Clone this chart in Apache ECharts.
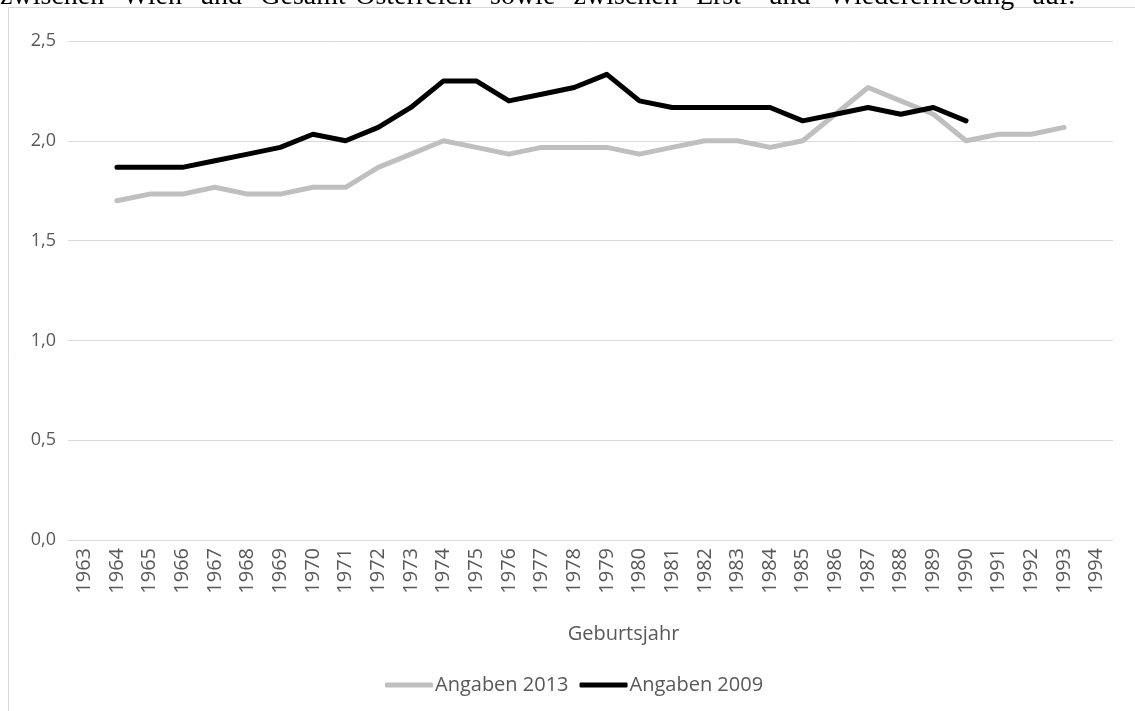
<!DOCTYPE html>
<html><head><meta charset="utf-8">
<script src="https://cdn.jsdelivr.net/npm/echarts@6/dist/echarts.min.js"></script>
<style>html,body{margin:0;padding:0;background:#fff}#c{width:1135px;height:711px}</style>
</head><body><div id="c"></div>
<script>
const years = ['1963','1964','1965','1966','1967','1968','1969','1970','1971','1972','1973','1974','1975','1976','1977','1978','1979','1980','1981','1982','1983','1984','1985','1986','1987','1988','1989','1990','1991','1992','1993','1994'];
const angaben2013 = [null,1.700,1.733,1.733,1.767,1.733,1.733,1.767,1.767,1.867,1.933,2.000,1.967,1.933,1.967,1.967,1.967,1.933,1.967,2.000,2.000,1.967,2.000,2.133,2.267,2.200,2.133,2.000,2.033,2.033,2.067,null];
const angaben2009 = [null,1.867,1.867,1.867,1.900,1.933,1.967,2.033,2.000,2.067,2.167,2.300,2.300,2.200,2.233,2.267,2.333,2.200,2.167,2.167,2.167,2.167,2.100,2.133,2.167,2.133,2.167,2.100,null,null,null,null];
const yTicks = [0,0.5,1.0,1.5,2.0,2.5];
const headerText = 'zwischen Wien und Gesamt-Österreich sowie zwischen Erst- und Wiedererhebung auf.';

const chart = echarts.init(document.getElementById('c'));
const font = 'Open Sans';
chart.setOption({
  animation:false,
  backgroundColor:'#fff',
  graphic:[
    {type:'rect',shape:{x:8.5,y:7.5,width:1200,height:800},style:{fill:'none',stroke:'#d9d9d9',lineWidth:1},z:-1},
    {type:'text',left:0,top:-17,style:{text:headerText.split(' ').join(' \u2009\u2009'),font:'28px "Liberation Serif"',fill:'#000'},z:10}
  ],
  grid:{left:68,right:22,top:41,bottom:171,containLabel:false},
  legend:{top:670,left:380,itemWidth:48,itemHeight:5,itemGap:11,icon:'roundRect',
    textStyle:{fontFamily:font,fontSize:20,color:'#595959',padding:[0,0,0,-3]},
    data:['Angaben 2013','Angaben 2009']},
  xAxis:{type:'category',data:years,boundaryGap:true,
    axisLine:{show:false},axisTick:{show:false},
    axisLabel:{rotate:90,fontFamily:font,fontSize:20,color:'#595959',margin:8,interval:0},
    name:'Geburtsjahr',nameLocation:'middle',nameGap:84,
    nameTextStyle:{fontFamily:font,fontSize:20,color:'#595959',padding:[0,0,0,66]}},
  yAxis:{type:'value',min:0,max:2.5,interval:0.5,
    axisLine:{show:false},axisTick:{show:false},
    splitLine:{lineStyle:{color:'#d9d9d9',width:1}},
    axisLabel:{fontFamily:font,fontSize:18,color:'#595959',margin:12,
      formatter:v=>yTicks.includes(v)?v.toFixed(1).replace('.',','):''}},
  series:[
    {name:'Angaben 2013',type:'line',data:angaben2013,showSymbol:false,symbol:'none',
      lineStyle:{color:'#bfbfbf',width:5,cap:'round',join:'round'},itemStyle:{color:'#bfbfbf'}},
    {name:'Angaben 2009',type:'line',data:angaben2009,showSymbol:false,symbol:'none',
      lineStyle:{color:'#000000',width:5,cap:'round',join:'round'},itemStyle:{color:'#000000'}}
  ]
});
</script></body></html>
